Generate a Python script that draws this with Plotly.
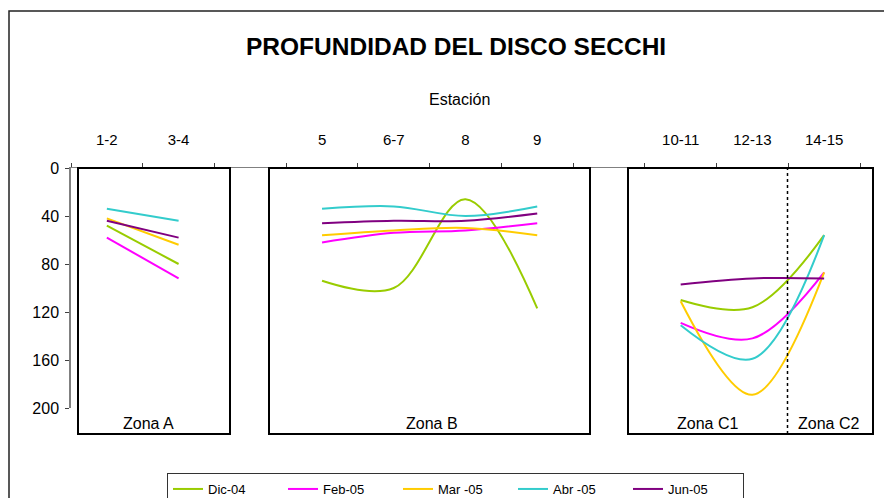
import plotly.graph_objects as go

# Stations along the coast; blank slots separate the zones
stations = ["1-2", "3-4", " ", "5", "6-7", "8", "9", "  ", "10-11", "12-13", "14-15"]

# Secchi disk depth (cm) per campaign; None marks the gaps between zones
dic_04 = [48, 80, None, 94, 100, 26, 117, None, 110, 116, 56]
feb_05 = [58, 92, None, 62, 54, 52, 46, None, 129, 142, 87]
mar_05 = [42, 64, None, 56, 52, 50, 56, None, 111, 189, 87]
abr_05 = [34, 44, None, 34, 32, 40, 32, None, 131, 159, 56]
jun_05 = [44, 58, None, 46, 44, 44, 38, None, 97, 92, 92]

series_names = ["Dic-04", "Feb-05", "Mar -05", "Abr -05", "Jun-05"]
series_values = [dic_04, feb_05, mar_05, abr_05, jun_05]
series_colors = ["#99CC00", "#FF00FF", "#FFCC00", "#33CCCC", "#800080"]

y_ticks = [0, 40, 80, 120, 160, 200]

FONT = "Liberation Sans, Arial, sans-serif"

fig = go.Figure()
for name, vals, col in zip(series_names, series_values, series_colors):
    fig.add_trace(go.Scatter(
        x=stations, y=vals, name=name, mode="lines",
        line=dict(color=col, width=2, shape="spline", smoothing=1.0),
        connectgaps=False,
    ))

# plot area: x 71..860 px, y 168..408 px
def px_x(p):
    return (p - 71) / 789.0

def px_y(p):
    return (408 - p) / 240.0

shapes = []
# outer chart frame
shapes.append(dict(type="rect", xref="paper", yref="paper",
                   x0=px_x(9), x1=px_x(895), y0=px_y(510), y1=px_y(11),
                   line=dict(color="#222222", width=1.5), layer="below"))
# zone boxes
for x0, x1 in [(78, 230), (269, 590), (628, 873)]:
    shapes.append(dict(type="rect", xref="paper", yref="paper",
                       x0=px_x(x0), x1=px_x(x1), y0=px_y(434), y1=px_y(168),
                       line=dict(color="black", width=2), layer="above"))
# separator between zones C1 and C2
shapes.append(dict(type="line", xref="paper", yref="paper",
                   x0=px_x(787.5), x1=px_x(787.5), y0=px_y(434), y1=px_y(168),
                   line=dict(color="black", width=1.5, dash="dot")))

annotations = [
    dict(text="<b>PROFUNDIDAD DEL DISCO SECCHI</b>", xref="paper", yref="paper",
         x=px_x(456), y=px_y(46), showarrow=False,
         font=dict(family=FONT, size=24.5, color="black"), xanchor="center", yanchor="middle"),
    dict(text="Estación", xref="paper", yref="paper",
         x=px_x(459), y=px_y(100), showarrow=False,
         font=dict(family=FONT, size=16, color="black"), xanchor="center", yanchor="middle"),
]
for label, cx in [("Zona A", 148), ("Zona B", 432), ("Zona C1", 707), ("Zona C2", 828)]:
    annotations.append(dict(text=label, xref="paper", yref="paper",
                            x=px_x(cx), y=px_y(423), showarrow=False,
                            font=dict(family=FONT, size=16, color="black"),
                            xanchor="center", yanchor="middle"))

fig.update_layout(
    width=884, height=498,
    margin=dict(l=71, r=24, t=168, b=90, autoexpand=False),
    paper_bgcolor="white", plot_bgcolor="white",
    font=dict(family=FONT, size=13, color="black"),
    shapes=shapes, annotations=annotations,
    showlegend=True,
    legend=dict(orientation="h", x=px_x(167), y=px_y(473), xanchor="left", yanchor="top",
                bordercolor="#333333", borderwidth=1, bgcolor="white",
                font=dict(family=FONT, size=13, color="black"),
                entrywidth=70, entrywidthmode="pixels", itemwidth=30,
                tracegroupgap=0),
    xaxis=dict(type="category", categoryorder="array", categoryarray=stations,
               side="top", showgrid=False, zeroline=False,
               showline=True, linecolor="#808080", linewidth=1,
               ticks="outside", ticklen=4, tickcolor="#404040", tickson="boundaries",
               ticklabelstandoff=16, tickfont=dict(family=FONT, size=15, color="black"),
               range=[-0.5, 10.5]),
    yaxis=dict(range=[200, 0], tickvals=y_ticks, showgrid=False, zeroline=False,
               showline=True, linecolor="#808080", linewidth=1.5,
               ticks="outside", ticklen=4, tickcolor="#404040",
               ticklabelstandoff=3, tickfont=dict(family=FONT, size=16, color="black")),
)

fig.write_html("out.html")
